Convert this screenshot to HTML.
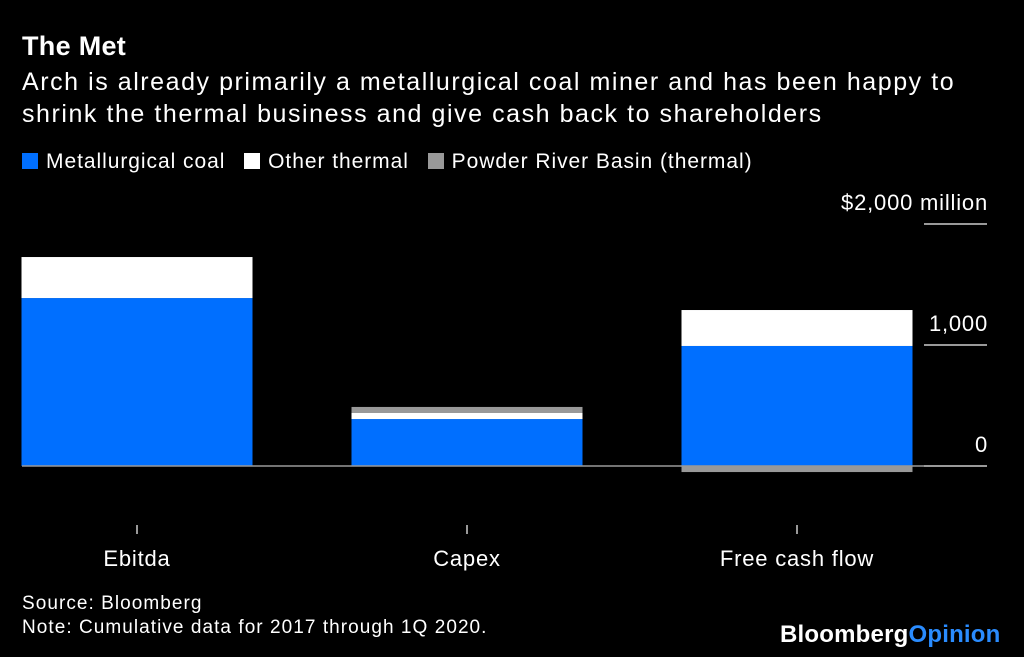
<!DOCTYPE html>
<html><head><meta charset="utf-8"><style>
body{margin:0;background:#000;width:1024px;height:657px;overflow:hidden;font-family:"Liberation Sans",sans-serif;color:#fff;position:relative}
.t{position:absolute;white-space:nowrap}
.sw{display:inline-block;width:16px;height:16px;vertical-align:-1px;margin-right:8px}
</style></head><body>
<div class="t" style="left:22px;top:31px;font-size:27px;font-weight:bold;letter-spacing:0.3px">The Met</div>
<div class="t" style="left:22px;top:66px;font-size:25px;line-height:32px;letter-spacing:1.55px">Arch is already primarily a metallurgical coal miner and has been happy to<br>shrink the thermal business and give cash back to shareholders</div>
<div class="t" style="left:22px;top:150px;font-size:21px;letter-spacing:0.95px">
<span><span class="sw" style="background:#006fff"></span>Metallurgical coal</span>
<span style="margin-left:12px"><span class="sw" style="background:#fff"></span>Other thermal</span>
<span style="margin-left:12px"><span class="sw" style="background:#999"></span>Powder River Basin (thermal)</span>
</div>
<svg id="c" width="1024" height="657" style="position:absolute;left:0;top:0"></svg>
<div class="t" style="left:22px;top:592px;font-size:19px;line-height:24px;letter-spacing:1.05px">Source: Bloomberg<br>Note: Cumulative data for 2017 through 1Q 2020.</div>
<div class="t" style="left:780px;top:621px;font-size:24px;font-weight:bold;letter-spacing:0.2px">Bloomberg<span style="color:#2a8cff">Opinion</span></div>
<script>
const categories=["Ebitda","Capex","Free cash flow"];
const metallurgical=[1388,388,992];
const otherThermal=[339,50,297];
const prb=[0,50,-50];
const tickValues=[0,1000,2000];
const tickLabels=["0","1,000","$2,000 million"];
const svg=document.getElementById('c');
const NS="http://www.w3.org/2000/svg";
const y=v=>466-v*0.121;
const xc=i=>137+i*330;
const bw=231;
function el(t,a){const e=document.createElementNS(NS,t);for(const k in a)e.setAttribute(k,a[k]);svg.appendChild(e);return e;}
tickValues.forEach((v,i)=>{
 const l=el('line',{x1:924,x2:987,y1:y(v),y2:y(v),stroke:'#ccc','stroke-width':1.5});
 
 
 const t=el('text',{x:988,y:y(v)-14,'text-anchor':'end',fill:'#fff','font-size':22,'letter-spacing':0.8,'font-family':'Liberation Sans'});
 t.textContent=tickLabels[i];
 
 
});
categories.forEach((c,i)=>{
 const x=xc(i)-bw/2;
 const segs=[[0,metallurgical[i],'#006fff'],[metallurgical[i],metallurgical[i]+otherThermal[i],'#fff']];
 if(prb[i]>0)segs.push([metallurgical[i]+otherThermal[i],metallurgical[i]+otherThermal[i]+prb[i],'#999']);
 else if(prb[i]<0)segs.push([prb[i],0,'#999']);
 segs.forEach((s,j)=>{
  const r=el('rect',{x:x,y:y(s[1]),width:bw,height:y(s[0])-y(s[1]),fill:s[2]});
  
  
 });
 const tk=el('line',{x1:xc(i),x2:xc(i),y1:525,y2:534,stroke:'#ccc','stroke-width':1.5});
 
 
 const t=el('text',{x:xc(i),y:566,'text-anchor':'middle',fill:'#fff','font-size':22,'letter-spacing':0.8,'font-family':'Liberation Sans'});
 t.textContent=c;
 
 
});
const b=el('line',{x1:22,x2:924,y1:y(0),y2:y(0),stroke:'#999','stroke-width':1.5});


</script>
</body></html>
